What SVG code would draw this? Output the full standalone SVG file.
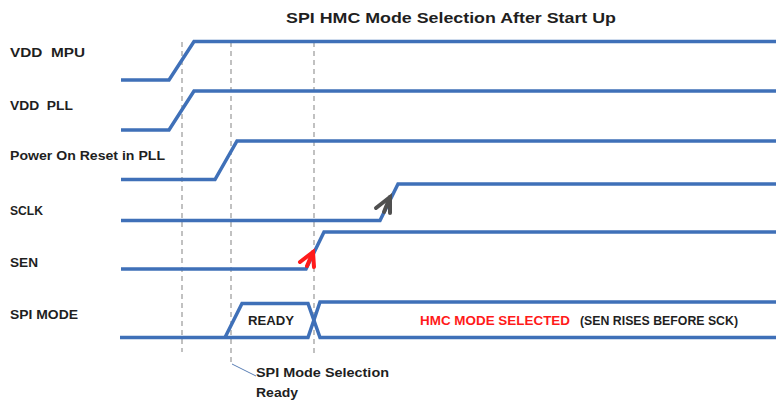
<svg xmlns="http://www.w3.org/2000/svg" width="776" height="402" viewBox="0 0 776 402">
<style>
.sig{fill:none;stroke:#3F70B8;stroke-width:3.5;stroke-linejoin:miter}
.dash{fill:none;stroke:#A0A0A0;stroke-width:1.3;stroke-dasharray:5 4}
.lbl{font-family:"Liberation Sans",Arial,sans-serif;font-weight:bold;font-size:13.5px;fill:#1F1F1F;white-space:pre}
.ttl{font-family:"Liberation Sans",Arial,sans-serif;font-weight:bold;font-size:15.5px;fill:#1F1F1F}
.red{fill:#FF1A1A}
</style>
<rect width="776" height="402" fill="#FFFFFF"/>
<g id="title"><text class="ttl" x="286" y="23" textLength="330" lengthAdjust="spacingAndGlyphs">SPI HMC Mode Selection After Start Up</text></g>
<g id="guides">
<line class="dash" x1="182" y1="42" x2="182" y2="352"/>
<line class="dash" x1="231" y1="42" x2="231" y2="364"/>
<line class="dash" x1="314" y1="42" x2="314" y2="353"/>
</g>
<g id="vdd-mpu">
<text class="lbl" x="10" y="57" textLength="75" lengthAdjust="spacingAndGlyphs" xml:space="preserve">VDD  MPU</text>
<polyline class="sig" points="121,80 169,80 194,41.5 776,41.5"/>
</g>
<g id="vdd-pll">
<text class="lbl" x="10" y="110" textLength="63" lengthAdjust="spacingAndGlyphs" xml:space="preserve">VDD  PLL</text>
<polyline class="sig" points="121,130 169,130 194,91 776,91"/>
</g>
<g id="por">
<text class="lbl" x="10" y="160" textLength="155" lengthAdjust="spacingAndGlyphs">Power On Reset in PLL</text>
<polyline class="sig" points="121,179.5 215,179.5 237,141 776,141"/>
</g>
<g id="sclk">
<text class="lbl" x="10" y="215" textLength="33" lengthAdjust="spacingAndGlyphs">SCLK</text>
<polyline class="sig" points="121,220.5 380,220.5 398,184 776,184"/>
</g>
<g id="sen">
<text class="lbl" x="10" y="267" textLength="28" lengthAdjust="spacingAndGlyphs">SEN</text>
<polyline class="sig" points="121,269 306,269 324,232 776,232"/>
</g>
<g id="spi-mode">
<text class="lbl" x="10" y="319" textLength="68" lengthAdjust="spacingAndGlyphs">SPI MODE</text>
<polyline class="sig" points="120,337.5 308,337.5 320,302 776,302"/>
<polyline class="sig" points="225,337.5 242,303.5 308,303.5 320,337.5 776,337.5"/>
<text class="lbl" x="248" y="325" textLength="46" lengthAdjust="spacingAndGlyphs">READY</text>
<text class="lbl red" x="420" y="325" textLength="150" lengthAdjust="spacingAndGlyphs">HMC MODE SELECTED</text>
<text class="lbl" x="580" y="325" textLength="158" lengthAdjust="spacingAndGlyphs">(SEN RISES BEFORE SCK)</text>
</g>
<g id="note">
<line x1="232" y1="364" x2="256" y2="376" stroke="#5A7FB5" stroke-width="1"/>
<text class="lbl" x="256" y="377" textLength="133" lengthAdjust="spacingAndGlyphs">SPI Mode Selection</text>
<text class="lbl" x="256" y="397" textLength="42" lengthAdjust="spacingAndGlyphs">Ready</text>
</g>
<g id="connectors">
<polyline points="300,262 313,252 314,267" fill="none" stroke="#FF1A1A" stroke-width="4" stroke-linejoin="miter" stroke-linecap="round"/>
<line x1="313" y1="252" x2="307" y2="266" stroke="#FF1A1A" stroke-width="4" stroke-linecap="round"/>
<polyline points="376,208 390,197 390,213" fill="none" stroke="#505050" stroke-width="4" stroke-linejoin="miter" stroke-linecap="round"/>
<line x1="390" y1="197" x2="384" y2="212" stroke="#505050" stroke-width="4" stroke-linecap="round"/>
</g>
</svg>
